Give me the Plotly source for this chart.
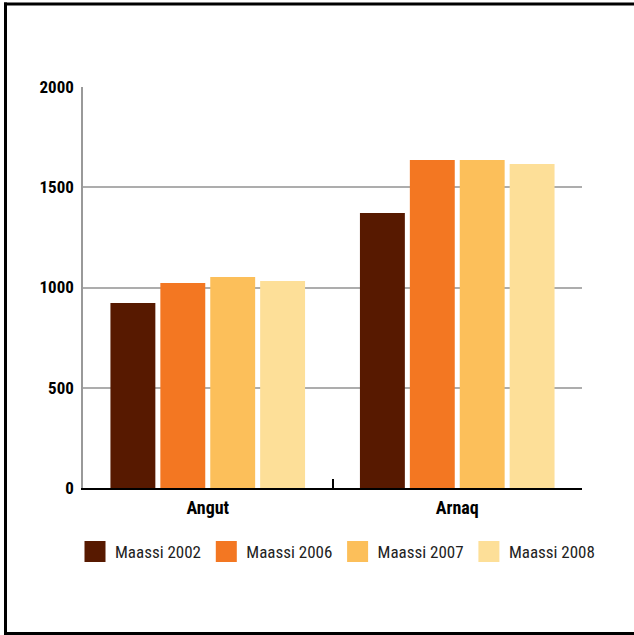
import plotly.graph_objects as go

categories = ["Angut", "Arnaq"]
series_names = ["Maassi 2002", "Maassi 2006", "Maassi 2007", "Maassi 2008"]
values_2002 = [923, 1371]
values_2006 = [1022, 1636]
values_2007 = [1052, 1636]
values_2008 = [1032, 1616]
colors = ["#571900", "#F37722", "#FCBF5A", "#FDDF98"]
y_ticks = [0, 500, 1000, 1500, 2000]

all_values = [values_2002, values_2006, values_2007, values_2008]
FONT = "Roboto Condensed, Open Sans Condensed, sans-serif"

fig = go.Figure()
for name, vals, col in zip(series_names, all_values, colors):
    fig.add_trace(go.Bar(
        x=categories, y=vals, name=name, legendgroup=name, showlegend=False,
        marker=dict(color=col, line=dict(width=0)),
    ))
# legend entries (square swatches)
for name, col in zip(series_names, colors):
    fig.add_trace(go.Scatter(
        x=[categories[0]], y=[None], name=name, legendgroup=name, mode="markers",
        marker=dict(symbol="square", size=16, color=col, line=dict(color=col, width=5)),
        showlegend=True, hoverinfo="skip",
    ))

W, H = 634, 635
ml, mr, mt, mb = 83, 52, 87, 147
pw = W - ml - mr
ph = H - mt - mb

def px_x(p):
    return (p - ml) / pw

def px_y(p):
    return (H - mb - p) / ph

border = dict(color="#000", width=3)
fig.update_layout(
    width=W, height=H,
    margin=dict(l=ml, r=mr, t=mt, b=mb, pad=0),
    paper_bgcolor="white", plot_bgcolor="white",
    barmode="group", bargap=0.2, bargroupgap=0.1,
    font=dict(family=FONT, size=17, color="#222"),
    showlegend=True,
    legend=dict(
        orientation="h", x=px_x(75), xanchor="left", y=px_y(552), yanchor="middle",
        font=dict(family=FONT, size=17, color="#222"),
        entrywidth=86.3, entrywidthmode="pixels", itemsizing="trace",
        bgcolor="rgba(0,0,0,0)", borderwidth=0, traceorder="normal",
    ),
    xaxis=dict(
        showgrid=False, showline=True, linecolor="#000", linewidth=2,
        ticks="inside", tickson="boundaries", ticklen=9, tickwidth=1.5, tickcolor="#000",
        tickfont=dict(family=FONT, size=18, color="#000", weight="bold"),
        ticklabelstandoff=2,
    ),
    yaxis=dict(
        range=[0, 2000], tickvals=y_ticks, showgrid=True, gridcolor="#ADADAD", gridwidth=1.5,
        showline=True, linecolor="#999", linewidth=1.5, zeroline=False,
        ticks="", tickfont=dict(family=FONT, size=17, color="#000", weight="bold"),
        ticklabelstandoff=4,
    ),
    shapes=[
        dict(type="line", xref="paper", yref="paper", x0=px_x(5.5), x1=px_x(5.5),
             y0=px_y(634), y1=px_y(2.5), line=border, layer="above"),
        dict(type="line", xref="paper", yref="paper", x0=px_x(4), x1=px_x(640),
             y0=px_y(4), y1=px_y(4), line=border, layer="above"),
        dict(type="line", xref="paper", yref="paper", x0=px_x(4), x1=px_x(640),
             y0=px_y(633.5), y1=px_y(633.5), line=border, layer="above"),
    ],
)

fig.write_html("out.html", config={"displayModeBar": False},
               post_script="document.body.style.margin='0';")
